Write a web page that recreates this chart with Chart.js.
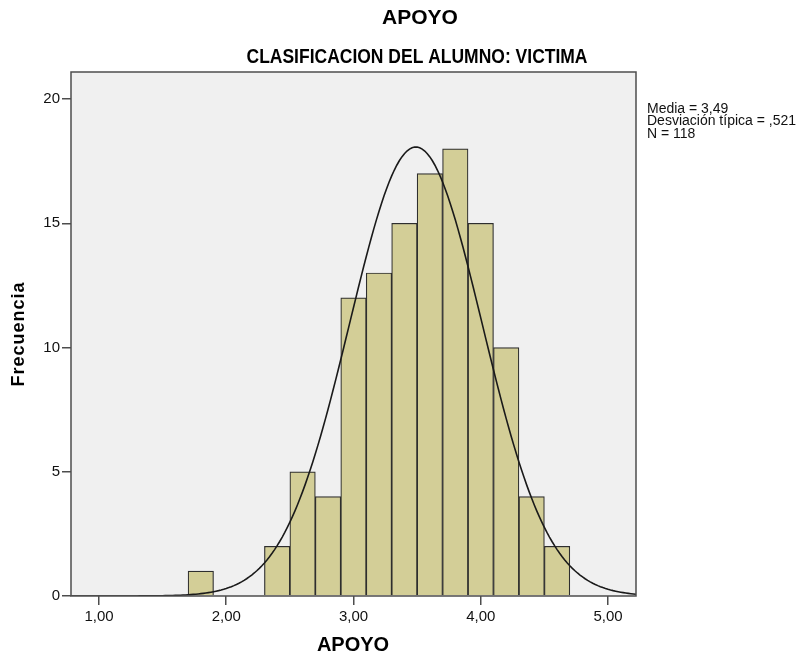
<!DOCTYPE html>
<html>
<head>
<meta charset="utf-8">
<script src="https://cdn.jsdelivr.net/npm/chart.js@4.4.0/dist/chart.umd.min.js"></script>
<style>
  body { margin: 0; background: #fff; }
  #wrap { width: 803px; height: 659px; }
</style>
</head>
<body>
<div id="wrap"><canvas id="histo" width="803" height="659"></canvas></div>
<script>
// bin centers (width 0.2) and counts
const binCenters = [1.8, 2.4, 2.6, 2.8, 3.0, 3.2, 3.4, 3.6, 3.8, 4.0, 4.2, 4.4, 4.6];
const counts = [1, 2, 5, 4, 12, 13, 15, 17, 18, 15, 10, 4, 2];
const xTicks = [1, 2, 3, 4, 5];
const yTicks = [0, 5, 10, 15, 20];
const MEDIA = 3.49;
const DESV = 0.521;
const N = 118;
const BIN = 0.2;

const fmt = (v, d) => v.toFixed(d).replace(".", ",");

// normal curve fitted from the stated mean / sd / N
const curve = [];
for (let x = 0.78; x <= 5.221; x += 0.02) {
    const z = (x - MEDIA) / DESV;
    curve.push({ x: x, y: (N * BIN) / (DESV * Math.sqrt(2 * Math.PI)) * Math.exp(-0.5 * z * z) });
}

const frame = {
    id: "frame",
    beforeDraw(chart) {
        const ctx = chart.ctx, a = chart.chartArea;
        ctx.save();
        ctx.fillStyle = "#ffffff";
        ctx.fillRect(0, 0, chart.width, chart.height);
        ctx.fillStyle = "#f0f0f0";
        ctx.fillRect(a.left, a.top, a.right - a.left, a.bottom - a.top);
        ctx.restore();
    },
    afterDraw(chart) {
        const ctx = chart.ctx, a = chart.chartArea;
        ctx.save();
        ctx.strokeStyle = "#4d4d4d";
        ctx.lineWidth = 1.5;
        ctx.strokeRect(a.left, a.top, a.right - a.left, a.bottom - a.top);

        ctx.fillStyle = "#000";
        ctx.textAlign = "center";
        ctx.textBaseline = "middle";
        ctx.font = "bold 21px 'Liberation Sans', Arial, sans-serif";
        ctx.fillText("APOYO", 420, 18);

        // narrow bold subtitle: squeeze regular bold to the reference width
        const sub = "CLASIFICACION DEL ALUMNO: VICTIMA";
        ctx.font = "bold 20px 'Liberation Sans', Arial, sans-serif";
        const sx = 341 / ctx.measureText(sub).width;
        ctx.save();
        ctx.translate(417, 57);
        ctx.scale(sx, 1);
        ctx.fillText(sub, 0, 0);
        ctx.restore();

        ctx.font = "bold 20px 'Liberation Sans', Arial, sans-serif";
        ctx.fillText("APOYO", 353, 645);

        ctx.save();
        ctx.translate(19, 334);
        ctx.rotate(-Math.PI / 2);
        ctx.font = "bold 18px 'Liberation Sans', Arial, sans-serif";
        ctx.letterSpacing = "1px";
        ctx.fillText("Frecuencia", 0, 0);
        ctx.restore();

        ctx.textAlign = "left";
        ctx.fillStyle = "#111";
        ctx.font = "14px 'Liberation Sans', Arial, sans-serif";
        ctx.fillText("Media = " + fmt(MEDIA, 2), 647, 109);
        ctx.fillText("Desviación típica = " + fmt(DESV, 3).replace(/^0/, ""), 647, 121.5);
        ctx.fillText("N = " + N, 647, 134);
        ctx.restore();
    },
};

const ctx = document.getElementById("histo").getContext("2d");
new Chart(ctx, {
    type: "bar",
    data: {
        datasets: [
            {
                type: "line",
                data: curve,
                borderColor: "#1a1a1a",
                borderWidth: 1.6,
                pointRadius: 0,
                tension: 0,
                order: 0,
            },
            {
                type: "bar",
                data: binCenters.map((c, i) => ({ x: c, y: counts[i] })),
                backgroundColor: "#d3ce97",
                borderColor: "#2e2e2e",
                borderWidth: 1.2,
                barPercentage: 1,
                categoryPercentage: 1,
                order: 1,
            },
        ],
    },
    options: {
        responsive: false,
        animation: false,
        layout: { padding: { top: 72, right: 167, left: 0, bottom: 0 } },
        plugins: {
            legend: { display: false },
            tooltip: { enabled: false },
        },
        scales: {
            x: {
                type: "linear",
                min: 0.78,
                max: 5.22,
                offset: false,
                afterBuildTicks: (s) => { s.ticks = xTicks.map((v) => ({ value: v })); },
                afterFit: (s) => { s.height = 63; },
                border: { display: false },
                grid: {
                    display: true,
                    drawOnChartArea: false,
                    drawTicks: true,
                    tickLength: 9,
                    color: "#4d4d4d",
                    lineWidth: 1.5,
                    offset: false,
                },
                ticks: {
                    padding: 3,
                    color: "#111",
                    font: { family: "'Liberation Sans', Arial, sans-serif", size: 15 },
                    callback: (v) => fmt(v, 2),
                    maxRotation: 0,
                },
            },
            y: {
                min: 0,
                max: 21.09,
                afterBuildTicks: (s) => { s.ticks = yTicks.map((v) => ({ value: v })); },
                afterFit: (s) => { s.width = 71; },
                border: { display: false },
                grid: {
                    display: true,
                    drawOnChartArea: false,
                    drawTicks: true,
                    tickLength: 9,
                    color: "#4d4d4d",
                    lineWidth: 1.5,
                },
                ticks: {
                    padding: 2,
                    color: "#111",
                    font: { family: "'Liberation Sans', Arial, sans-serif", size: 15 },
                },
            },
        },
    },
    plugins: [frame],
});
</script>
</body>
</html>
